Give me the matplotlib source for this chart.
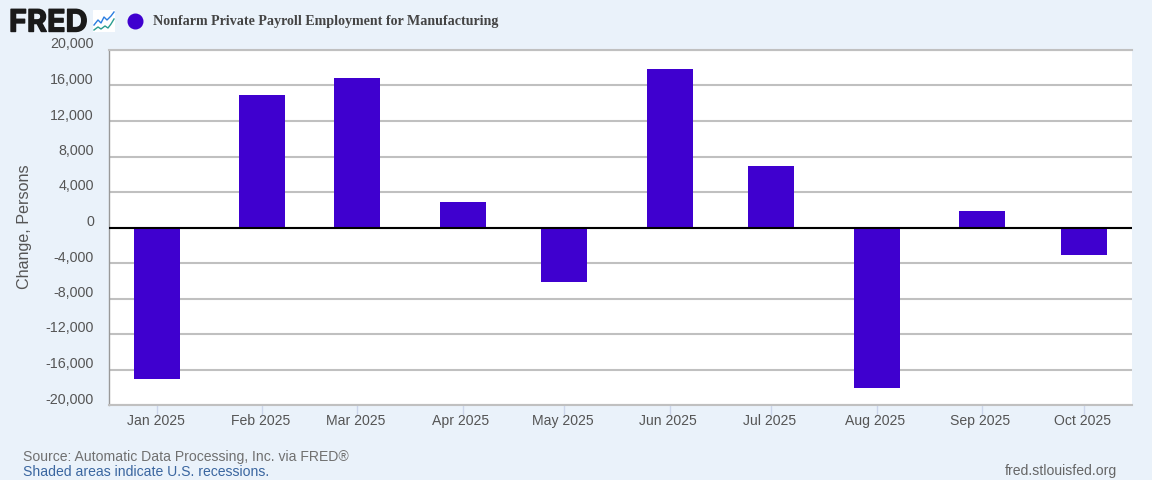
import matplotlib
matplotlib.use('Agg')
import matplotlib.pyplot as plt
import matplotlib.dates as mdates
import matplotlib.patheffects as pe
import pandas as pd
from matplotlib.lines import Line2D
from matplotlib.patches import Rectangle
from matplotlib.transforms import ScaledTranslation

plt.rcParams['font.family'] = ['Liberation Sans', 'DejaVu Sans']

months = ['2025-01-01', '2025-02-01', '2025-03-01', '2025-04-01', '2025-05-01',
          '2025-06-01', '2025-07-01', '2025-08-01', '2025-09-01', '2025-10-01']
month_labels = ['Jan 2025', 'Feb 2025', 'Mar 2025', 'Apr 2025', 'May 2025',
                'Jun 2025', 'Jul 2025', 'Aug 2025', 'Sep 2025', 'Oct 2025']
changes = [-17100, 14900, 16850, 2900, -6100, 17900, 6900, -18100, 1900, -3050]
y_ticks = [-20000, -16000, -12000, -8000, -4000, 0, 4000, 8000, 12000, 16000, 20000]

W, H = 1152, 480
BG = '#eaf2fa'
BAR = '#3f00cf'
GREY = '#c0c0c0'
TEXT = '#555555'

fig = plt.figure(figsize=(W / 100, H / 100), dpi=100, facecolor=BG)
ax = fig.add_axes([108.5 / W, 1 - 405 / H, (1132 - 108.5) / W, (405 - 50) / H])

dates = mdates.date2num(pd.to_datetime(months))
px_per_day = 3.395
ax.bar(dates, changes, width=46 / px_per_day, color=BAR, zorder=3)
ax.axhline(0, color='black', lw=1.5, zorder=4)

ax.set_xlim(dates[0] - 48.5 / px_per_day, dates[0] + (1132 - 157) / px_per_day)
ax.set_ylim(-20000, 20000)
ax.set_yticks(y_ticks)
ax.set_yticklabels([f'{v:,}' for v in y_ticks], fontsize=10.3, color=TEXT)
ax.set_xticks(dates)
ax.set_xticklabels(month_labels, fontsize=10.1, color=TEXT)
ax.tick_params(axis='y', length=0, pad=10.5)
ax.tick_params(axis='x', length=7, width=1, color='#ccd6eb', pad=-0.8)
ax.grid(axis='y', color=GREY, lw=1.5, zorder=1)
ax.set_axisbelow(True)

# FRED draws the y labels a few pixels above their gridlines
shift = ScaledTranslation(0, 7 / 100, fig.dpi_scale_trans)
for lab in ax.get_yticklabels():
    lab.set_transform(lab.get_transform() + shift)
# and the month labels a touch left of their ticks
shift_x = ScaledTranslation(-1.5 / 100, 0, fig.dpi_scale_trans)
for lab in ax.get_xticklabels():
    lab.set_transform(lab.get_transform() + shift_x)

for side in ['top', 'bottom']:
    ax.spines[side].set_color(GREY)
    ax.spines[side].set_linewidth(1.5)
ax.spines['right'].set_visible(False)
ax.spines['left'].set_color('#999999')
ax.spines['left'].set_linewidth(1)

fig.text(25 / W, 1 - 227 / H, 'Change, Persons', rotation=90, fontsize=11.6,
         color=TEXT, ha='center', va='center')

# header: logo, icon and legend
fig.text(9 / W, 1 - 23.5 / H, 'FRED', fontsize=22, fontweight='bold', color='#1a1a1a',
         ha='left', va='center', family=['Inter', 'DejaVu Sans'],
         path_effects=[pe.withStroke(linewidth=1, foreground='#1a1a1a')])
icon = fig.add_axes([93 / W, 1 - 32 / H, 22 / W, 22 / H])
icon.set_xlim(0, 22)
icon.set_ylim(22, 0)
icon.axis('off')
icon.add_patch(Rectangle((0, 0), 22, 22, color='white'))
icon.plot([1, 5, 8, 11, 14, 18, 21], [15, 10, 13, 7, 10, 6, 2], color='#2a7de1', lw=1)
icon.plot([1, 5, 8, 12, 15, 18, 21], [20, 17, 19, 16, 18, 14, 9], color='#2a9d8f', lw=1)

fig.add_artist(Line2D([135 / W], [1 - 20.5 / H], marker='o', ms=10.5, color=BAR,
                      mec=BAR, transform=fig.transFigure))
fig.text(153 / W, 1 - 21 / H, 'Nonfarm Private Payroll Employment for Manufacturing',
         fontsize=10.05, fontweight='bold', color='#444444', ha='left', va='center',
         family=['Liberation Serif', 'DejaVu Serif'])

# footer
fig.text(23 / W, 1 - 456.5 / H, 'Source: Automatic Data Processing, Inc. via FRED®',
         fontsize=10.1, color='#707070', ha='left', va='center')
fig.text(23 / W, 1 - 471.5 / H, 'Shaded areas indicate U.S. recessions.',
         fontsize=10.05, color='#3a66a0', ha='left', va='center')
fig.text(1117 / W, 1 - 471.5 / H, 'fred.stlouisfed.org',
         fontsize=10.1, color='#666666', ha='right', va='center')

fig.savefig('out.png', dpi=100, facecolor=BG)
